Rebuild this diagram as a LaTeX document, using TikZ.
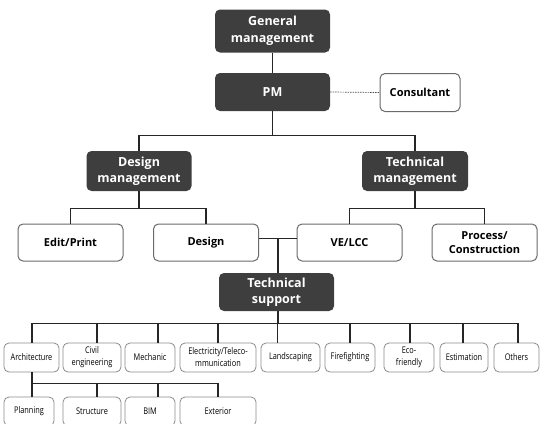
\documentclass[tikz,border=0pt]{standalone}
\usepackage{fontspec}
\setmainfont{Open Sans}
\newfontfamily\narrowfont[FakeStretch=0.8]{Open Sans}

\definecolor{boxdark}{HTML}{3E3E3E}
\definecolor{edgegray}{HTML}{6A6A6A}
\definecolor{lightedge}{HTML}{8C8C8C}

\tikzset{
  dark/.style={draw=none,fill=boxdark,rounded corners=5pt,text=white,align=center,
    font=\fontsize{12.5}{16.5}\selectfont\bfseries,inner sep=0pt},
  midbox/.style={draw=edgegray,line width=1pt,fill=white,rounded corners=5pt,align=center,
    font=\fontsize{11}{14.5}\selectfont\bfseries,inner sep=0pt,minimum width=105,minimum height=37},
  leaf/.style={draw=lightedge,line width=.8pt,fill=white,rounded corners=5pt,align=center,
    font=\narrowfont\fontsize{9.2}{12}\selectfont,inner sep=0pt,minimum height=29},
  link/.style={line width=1.1pt,color=black!85}
}

\begin{document}
\begin{tikzpicture}[x=1pt,y=-1pt]
\clip (0,0) rectangle (540,423);
\useasboundingbox (0,0) rectangle (540,423);
% top of the chart
\node[dark,minimum width=115,minimum height=43] (gm) at (272.5,31) {General\\management};
\node[dark,minimum width=115,minimum height=38] (pm) at (272.5,92) {PM};
\node[midbox,minimum width=80,minimum height=38] (cons) at (420,92.5) {Consultant};
\node[dark,minimum width=105,minimum height=40] (dm) at (139,171) {Design\\management};
\node[dark,minimum width=106,minimum height=40] (tm) at (415,171) {Technical\\management};
%
\node[midbox] (ep) at (70.5,242.5) {Edit/Print};
\node[midbox] (des) at (206,242.5) {Design};
\node[midbox] (ve) at (349.5,242.5) {VE/LCC};
\node[midbox] (pc) at (484.5,242.5) {Process/\\Construction};
%
\node[dark,minimum width=115,minimum height=38] (ts) at (276.5,292) {Technical\\support};
% technical support fields
\node[leaf,minimum width=55] (arch) at (31.5,357.5) {Architecture};
\node[leaf,minimum width=58] (civ) at (92,357.5) {Civil\\engineering};
\node[leaf,minimum width=50] (mech) at (150,357.5) {Mechanic};
\node[leaf,minimum width=76] (elec) at (218,357.5) {Electricity/Teleco-\\mmunication};
\node[leaf,minimum width=59] (land) at (290.5,357.5) {Landscaping};
\node[leaf,minimum width=50] (fire) at (350,357.5) {Firefighting};
\node[leaf,minimum width=50] (eco) at (409,357.5) {Eco-\\friendly};
\node[leaf,minimum width=48] (est) at (464,357.5) {Estimation};
\node[leaf,minimum width=45] (oth) at (516.5,357.5) {Others};
% architecture parts
\node[leaf,minimum width=50] (plan) at (29,411.5) {Planning};
\node[leaf,minimum width=58] (struc) at (92,411.5) {Structure};
\node[leaf,minimum width=50] (bim) at (150,411.5) {BIM};
\node[leaf,minimum width=76] (ext) at (218,411.5) {Exterior};
%
\draw[link] (gm) -- (pm);
\draw[black!70,line width=.7pt,dash pattern=on 1.5pt off 1pt] (pm.east) -- (cons.west);
\draw[link] (pm.south) -- ++(0,24) -| (dm.north);
\draw[link] (pm.south) -- ++(0,24) -| (tm.north);
\draw[link] (dm.south) -- ++(0,17) -| (ep.north);
\draw[link] (dm.south) -- ++(0,17) -| (des.north);
\draw[link] (tm.south) -- ++(0,17) -| (pc.north);
\draw[link] (tm.south) -- ++(0,17) -| (ve.north);
\draw[link] ([yshift=4]des.east) -- ([yshift=4]ve.west);
\draw[link] ([xshift=1.5]ts.north) -- ([xshift=1.5,yshift=4]ts.north |- des.east);
%
\foreach \n/\dx in {arch/0.5,civ/5,mech/8,elec/0,land/-13,fire/0,eco/1,est/-1,oth/1.5}
  \draw[link] ([xshift=1.5]ts.south) -- ++(0,12) -| ([xshift=\dx]\n.north);
\foreach \n/\dx in {plan/3,struc/5,bim/8,ext/0}
  \draw[link] ([xshift=.5]arch.south) -- ++(0,11) -| ([xshift=\dx]\n.north);
\end{tikzpicture}
\end{document}
